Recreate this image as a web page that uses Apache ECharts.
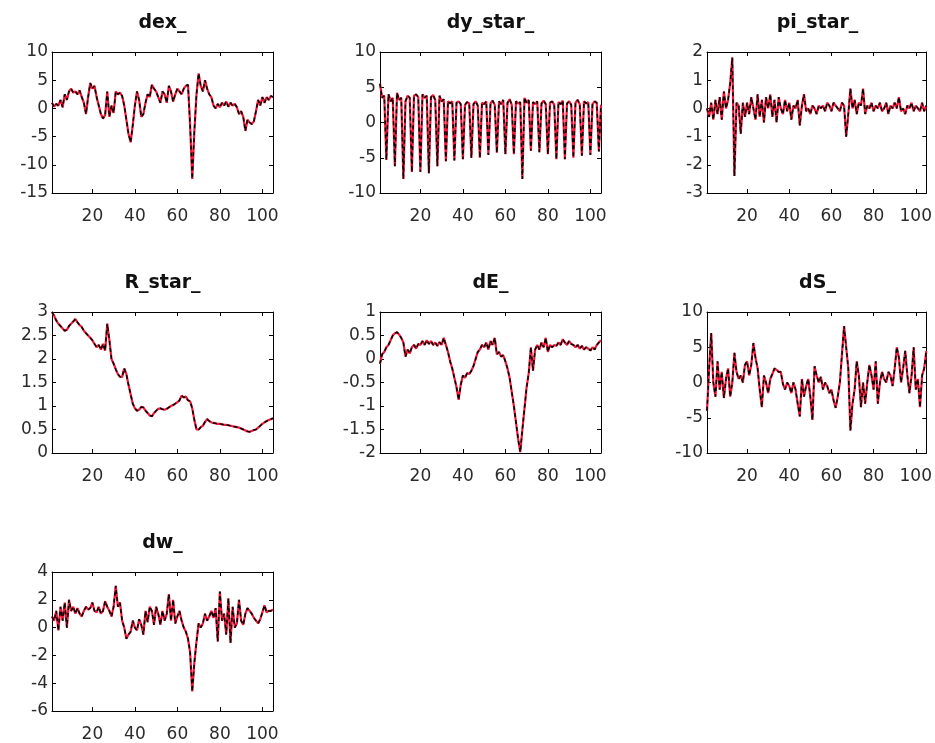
<!DOCTYPE html>
<html>
<head>
<meta charset="utf-8">
<script src="https://cdn.jsdelivr.net/npm/echarts@6/dist/echarts.min.js"></script>
<style>
html, body { margin: 0; padding: 0; background: #ffffff; }
#chart { width: 935px; height: 743px; }
</style>
</head>
<body>
<div id="chart"></div>
<script>
// Quarterly series, observations 1..105
const xTicks = [20, 40, 60, 80, 100];

const dex = [1.0, 0.3, 0.8, 0.5, 1.5, 0.2, 2.5, 1.5, 3.0, 3.5, 2.8, 3.0, 2.5, 3.2, 2.0, 1.0, -1.0, 2.0, 4.5, 3.5,
  4.0, 2.0, 0.5, -1.0, -1.8, -1.2, 3.0, -1.5, 0.5, -0.8, 3.0, 2.5, 2.8, 2.2, 0.5, -2.0, -4.5, -6.0, -3.0, 0.5,
  3.0, 1.5, -1.5, -1.0, 1.0, 2.5, 2.0, 4.2, 3.5, 3.0, 2.0, 1.0, 3.0, 2.5, 1.0, 4.0, 3.0, 1.2, 2.5, 3.5,
  3.0, 2.5, 3.5, 4.0, 4.2, -3.0, -12.5, -4.0, 2.5, 6.2, 4.0, 3.0, 5.0, 3.5, 2.5, 2.0, 0.5, 0.0, 0.8, 0.2,
  1.0, 0.5, 1.2, 0.3, 1.0, 0.5, 0.8, 0.2, -1.0, -0.5, -1.5, -4.0, -2.0, -2.5, -2.8, -2.3, -0.5, 1.5, 0.5, 2.0,
  1.0, 2.0, 1.5, 2.2, 2.0];

const dyStar = [5.5, 3.5, 3.8, -5.3, 4.0, 3.0, 3.5, -6.2, 4.2, 3.2, 3.5, -8.0, 3.0, 3.8, 3.5, -7.0, 3.8, 4.0, 3.6, -7.0,
  4.0, 3.5, 3.8, -7.2, 3.6, 3.9, 3.2, -6.2, 3.8, 3.0, 3.3, -5.5, 3.0, 2.7, 3.0, -5.4, 2.8, 3.0, 2.6, -5.2,
  2.5, 2.9, 2.7, -5.0, 2.6, 3.0, 2.4, -5.0, 2.8, 2.6, 3.0, -4.6, 2.7, 3.1, 2.5, -4.3, 3.0, 2.6, 3.2, -4.5,
  2.8, 3.3, 2.5, -4.5, 3.0, 2.7, 2.9, -8.0, 3.5, 2.8, 3.2, -4.0, 2.9, 2.6, 3.0, -4.2, 2.7, 3.1, 2.6, -4.5,
  2.8, 3.0, 2.5, -5.2, 2.9, 2.6, 3.1, -5.2, 2.7, 3.0, 2.5, -5.0, 2.8, 3.2, 2.6, -4.7, 3.0, 2.7, 2.9, -4.6,
  2.6, 3.0, 2.8, -4.1, 2.5];

const piStar = [0.0, -0.3, 0.2, -0.4, 0.3, -0.2, 0.4, -0.4, 0.6, 0.0, 0.3, 0.9, 1.8, -2.4, 0.2, 0.1, -0.9, 0.2, -0.3, 0.2,
  -0.2, 0.4, 0.0, -0.4, 0.5, -0.3, 0.3, -0.5, 0.4, 0.0, 0.5, -0.3, 0.3, -0.5, 0.4, 0.0, -0.2, 0.3, -0.1, 0.2,
  -0.4, 0.1, 0.0, 0.3, -0.6, 0.1, 0.5, -0.1, 0.0, -0.2, 0.1, 0.0, -0.2, 0.1, 0.0, 0.1, -0.1, 0.2, 0.1, -0.1,
  0.2, 0.1, 0.0, -0.1, 0.2, 0.1, -1.0, -0.2, 0.7, 0.0, 0.3, -0.2, 0.2, 0.1, 0.7, -0.2, 0.1, 0.0, 0.2, -0.1,
  0.1, 0.0, 0.2, -0.1, 0.0, 0.2, -0.2, 0.1, 0.0, 0.2, 0.0, 0.4, -0.1, 0.0, -0.2, 0.1, 0.0, 0.2, -0.1, 0.1,
  0.0, -0.1, 0.2, -0.1, 0.1];

const rStar = [3.0, 2.92, 2.82, 2.75, 2.7, 2.65, 2.6, 2.62, 2.7, 2.75, 2.8, 2.85, 2.78, 2.72, 2.68, 2.6, 2.55, 2.5, 2.45, 2.4,
  2.32, 2.25, 2.3, 2.2, 2.32, 2.18, 2.75, 2.4, 2.0, 1.9, 1.78, 1.68, 1.62, 1.62, 1.8, 1.68, 1.45, 1.25, 1.05, 0.95,
  0.9, 0.92, 0.98, 0.97, 0.9, 0.85, 0.8, 0.78, 0.85, 0.9, 0.94, 0.95, 0.93, 0.92, 0.94, 0.97, 1.0, 1.02, 1.05, 1.08,
  1.12, 1.22, 1.18, 1.2, 1.12, 1.1, 0.95, 0.7, 0.5, 0.5, 0.55, 0.58, 0.66, 0.72, 0.68, 0.65, 0.64, 0.63, 0.62, 0.62,
  0.61, 0.6, 0.6, 0.59, 0.58, 0.57, 0.56, 0.55, 0.54, 0.52, 0.5, 0.48, 0.46, 0.45, 0.47, 0.49, 0.5, 0.54, 0.58, 0.62,
  0.65, 0.68, 0.7, 0.72, 0.74];

const dE = [-0.1, 0.1, 0.15, 0.25, 0.3, 0.4, 0.5, 0.55, 0.57, 0.52, 0.45, 0.35, 0.05, 0.2, 0.12, 0.25, 0.3, 0.22, 0.32, 0.3,
  0.38, 0.3, 0.4, 0.32, 0.38, 0.3, 0.35, 0.28, 0.36, 0.3, 0.45, 0.3, 0.15, -0.05, -0.2, -0.4, -0.6, -0.87, -0.55, -0.35,
  -0.4, -0.3, -0.32, -0.25, -0.15, 0.0, 0.15, 0.2, 0.3, 0.25, 0.35, 0.2, 0.38, 0.3, 0.45, 0.1, 0.15, 0.05, 0.08, -0.05,
  -0.2, -0.4, -0.7, -1.0, -1.35, -1.7, -1.98, -1.5, -1.05, -0.6, -0.3, 0.25, -0.25, 0.2, 0.3, 0.2, 0.35, 0.25, 0.45, 0.15,
  0.3, 0.25, 0.3, 0.28, 0.35, 0.3, 0.42, 0.35, 0.3, 0.38, 0.32, 0.3, 0.25, 0.3, 0.22, 0.28, 0.2, 0.25, 0.22, 0.18,
  0.25, 0.2, 0.3, 0.35, 0.4];

const dS = [-4.0, 2.0, 7.0, 0.0, -2.0, 3.0, -1.0, 1.5, -2.2, 0.5, 2.0, -2.0, 0.0, 4.2, 1.5, 0.5, 1.0, 0.0, 2.5, 3.0,
  1.0, 2.5, 5.6, 3.5, 2.0, -1.0, -3.5, 1.0, 0.0, -1.5, 0.5, 1.2, 2.0, 1.8, 1.5, 1.5, -0.2, -1.0, 0.0, -0.5,
  -1.5, 0.0, -1.0, -3.0, -4.8, 0.5, -2.0, -0.5, 0.5, -2.0, -5.3, 2.3, 1.0, 0.0, 0.8, -1.0, 0.0, -0.5, -1.5, -1.0,
  -2.5, -3.6, -2.0, 0.0, 4.0, 8.0, 5.0, 2.0, -6.8, -3.0, -1.0, 3.0, 1.0, -3.5, 0.0, -3.0, 0.0, 2.5, 1.0, -1.0,
  3.0, -3.0, 0.0, 1.5, 0.5, 0.0, 1.5, 1.0, -0.5, 2.0, 5.0, 3.5, 0.0, 2.0, 4.5, 1.0, -1.5, 1.0, 5.0, -1.0,
  0.5, -3.5, 1.0, 2.0, 4.5];

const dw = [0.8, 0.5, 1.2, -0.2, 1.5, 0.5, 1.8, 0.0, 2.0, 1.2, 1.5, 1.0, 1.4, 1.0, 0.8, 1.2, 1.5, 1.3, 1.4, 1.8,
  1.2, 1.1, 1.5, 1.0, 1.2, 1.9, 1.5, 1.2, 0.8, 1.5, 3.0, 1.5, 1.8, 0.5, 0.0, -0.8, -0.5, -0.3, 0.5, 0.0,
  -0.2, 0.6, 0.2, -0.5, 1.2, 0.4, 1.5, 1.2, 0.2, 1.5, 1.0, 0.2, 1.2, 0.5, 1.0, 2.4, 0.5, 2.0, 0.3, 0.8,
  1.2, 0.5, 0.0, -0.3, -0.8, -1.8, -4.6, -2.5, -1.0, 0.3, 0.0, 0.3, 1.0, 0.5, 0.8, 1.2, 0.7, 1.4, -1.0, 2.6,
  0.5, 1.0, -0.5, 2.1, -1.1, 1.5, 0.0, 0.3, 2.0, 0.5, 0.2, 1.0, 1.4, 1.2, 1.0, 0.7, 0.5, 0.3, 0.6, 1.1,
  1.6, 1.1, 1.2, 1.2, 1.3];

const titles = ['dex_', 'dy_star_', 'pi_star_', 'R_star_', 'dE_', 'dS_', 'dw_'];
const seriesValues = [dex, dyStar, piStar, rStar, dE, dS, dw];
const yMins = [-15, -10, -3, 0, -2, -10, -6];
const yMaxs = [10, 10, 2, 3, 1, 10, 4];
const ySteps = [5, 5, 1, 0.5, 0.5, 5, 2];

// panel geometry (3 x 3 layout)
const colLeft = [52, 380, 707];
const rowTop = [52, 312, 572];
const boxW = 221, boxH = 141;

const chart = echarts.init(document.getElementById('chart'), null, { renderer: 'canvas' });

const labelStyle = { color: '#2b2b2b', fontFamily: 'DejaVu Sans', fontSize: 17 };
const lineStyleAxis = { color: '#000', width: 1 };

const option = { animation: false, backgroundColor: '#ffffff',
  title: [], grid: [], xAxis: [], yAxis: [], series: [] };

titles.forEach((name, i) => {
  const left = colLeft[i % 3];
  const top = rowTop[Math.floor(i / 3)];
  option.title.push({
    text: name, left: left + boxW / 2, top: top - 38, textAlign: 'center', padding: 0,
    textStyle: { fontFamily: 'DejaVu Sans', fontWeight: 'bold', fontSize: 19, color: '#111' }
  });
  option.grid.push({ left: left, top: top, width: boxW, height: boxH });

  const n = seriesValues[i].length;
  const xBase = {
    type: 'value', gridIndex: i, min: 1, max: n, splitLine: { show: false },
    axisLine: { show: true, onZero: false, lineStyle: lineStyleAxis },
    axisTick: { show: true, inside: true, length: 4, customValues: xTicks, lineStyle: lineStyleAxis }
  };
  option.xAxis.push(Object.assign({}, xBase, {
    position: 'bottom',
    axisLabel: Object.assign({ show: true, margin: 15, customValues: xTicks }, labelStyle)
  }));
  option.xAxis.push(Object.assign({}, xBase, { position: 'top', axisLabel: { show: false } }));

  const yBase = {
    type: 'value', gridIndex: i, min: yMins[i], max: yMaxs[i], interval: ySteps[i],
    splitLine: { show: false },
    axisLine: { show: true, onZero: false, lineStyle: lineStyleAxis },
    axisTick: { show: true, inside: true, length: 4, lineStyle: lineStyleAxis }
  };
  option.yAxis.push(Object.assign({}, yBase, {
    position: 'left', axisLabel: Object.assign({ show: true, margin: 4 }, labelStyle)
  }));
  option.yAxis.push(Object.assign({}, yBase, { position: 'right', axisLabel: { show: false } }));

  const pts = seriesValues[i].map((v, k) => [k + 1, v]);
  option.series.push({
    type: 'line', xAxisIndex: 2 * i, yAxisIndex: 2 * i, data: pts, showSymbol: false,
    lineStyle: { color: '#f01838', width: 2.2 }, silent: true
  });
  option.series.push({
    type: 'line', xAxisIndex: 2 * i, yAxisIndex: 2 * i, data: pts, showSymbol: false,
    lineStyle: { color: '#000000', width: 1.5, type: [4, 3] }, silent: true
  });
});

chart.setOption(option);
</script>
</body>
</html>
